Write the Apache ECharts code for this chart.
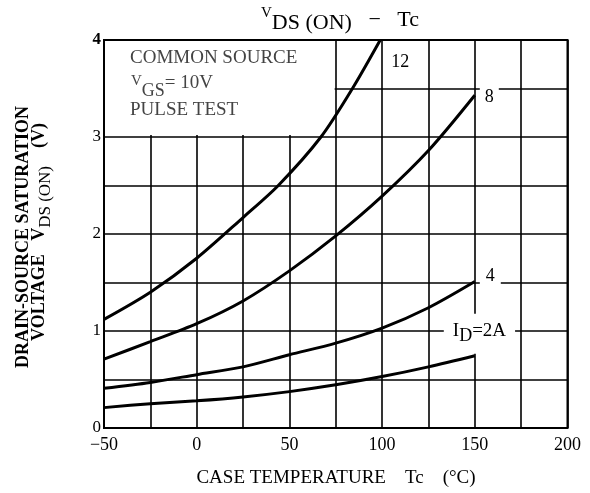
<!DOCTYPE html>
<html><head><meta charset="utf-8">
<script src="https://cdn.jsdelivr.net/npm/echarts@6/dist/echarts.min.js"></script>
<style>html,body{margin:0;padding:0;background:#fff}#c{width:590px;height:493px}</style>
</head><body><div id="c"></div>
<script>
// Data
const temps12 = [-50, -25, 0, 25, 44, 67, 84, 99];
const vds12   = [1.12, 1.40, 1.75, 2.17, 2.5, 3.0, 3.5, 4.0];
const temps   = [-50, -25, 0, 25, 50, 75, 100, 125, 150];
const vds8    = [0.71, 0.89, 1.075, 1.31, 1.62, 1.98, 2.39, 2.86, 3.43];
const vds4    = [0.41, 0.47, 0.55, 0.63, 0.755, 0.875, 1.03, 1.24, 1.51];
const vds2    = [0.21, 0.25, 0.28, 0.32, 0.375, 0.445, 0.53, 0.63, 0.745];
const xTicks  = [-50, 0, 50, 100, 150, 200];
const yTicks  = [0, 1, 2, 3, 4];

const FONT = '"Liberation Serif", "Times New Roman", serif';
const zip = (xs, ys) => xs.map((x, i) => [x, ys[i]]);

function curve(name, xs, ys, label, offset, rich, pad) {
  return {
    name, type: 'line', data: zip(xs, ys), smooth: 0.3, symbol: 'none', z: 3,
    lineStyle: { color: '#000', width: 3 },
    endLabel: {
      show: true, formatter: label, offset: offset, color: '#000',
      fontFamily: FONT, fontSize: 18, backgroundColor: '#fff', padding: pad,
      rich: rich || {}
    }
  };
}

const chart = echarts.init(document.getElementById('c'), null, { renderer: 'canvas' });
chart.setOption({
  animation: false,
  backgroundColor: '#fff',
  grid: { left: 104, right: 22.5, top: 40, bottom: 65, show: true, z: 10,
          borderColor: '#000', borderWidth: 2, backgroundColor: 'transparent' },
  title: {
    text: '{v|V}{s|DS (ON)}{n|   −   Tc}', left: 335, top: 1, textAlign: 'center',
    textStyle: { fontWeight: 'normal', rich: {
      v: { fontFamily: FONT, fontSize: 15, fontWeight: 'normal', color: '#000', verticalAlign: 'top', lineHeight: 28 },
      s: { fontFamily: FONT, fontSize: 22, fontWeight: 'normal', color: '#000', verticalAlign: 'bottom', lineHeight: 28 },
      n: { fontFamily: FONT, fontSize: 22, fontWeight: 'normal', color: '#000', verticalAlign: 'middle', lineHeight: 28 }
    } }
  },
  xAxis: {
    type: 'value', min: -50, max: 200, interval: 25,
    axisLine: { show: false }, axisTick: { show: false },
    splitLine: { show: true, lineStyle: { color: '#000', width: 1.6 } },
    axisLabel: {
      color: '#000', fontFamily: FONT, fontSize: 18, margin: 8,
      formatter: v => xTicks.includes(v) ? (v < 0 ? '−' + (-v) : String(v)) : ''
    }
  },
  yAxis: {
    type: 'value', min: 0, max: 4, interval: 0.5,
    axisLine: { show: false }, axisTick: { show: false },
    splitLine: { show: true, lineStyle: { color: '#000', width: 1.6 } },
    axisLabel: {
      color: '#000', fontFamily: FONT, fontSize: 17, margin: 3,
      formatter: v => yTicks.includes(v) ? (v === 4 ? '{b|4}' : String(v)) : '',
      rich: { b: { fontFamily: FONT, fontSize: 17, fontWeight: 'bold', color: '#000' } }
    }
  },
  series: [
    { type: 'line', data: [], z: 1, silent: true,
      markArea: { silent: true, itemStyle: { color: '#fff' },
        data: [[{ coord: [-50, 3.02] }, { coord: [74.4, 4] }]] } },
    curve('12', temps12, vds12, '12', [0, 22], null, [2, 3]),
    curve('8', temps, vds8, '8', [-3, 2], null, [3, 5]),
    curve('4', temps, vds4, '4', [-3, -5], null, [3, 6]),
    curve('2', temps, vds2, '{i|I}{d|D}{e|=2A}', [-39, -22], {
      i: { fontFamily: FONT, fontSize: 19, color: '#000', verticalAlign: 'top', lineHeight: 24 },
      d: { fontFamily: FONT, fontSize: 18, color: '#000', verticalAlign: 'bottom', lineHeight: 24 },
      e: { fontFamily: FONT, fontSize: 19, color: '#000', verticalAlign: 'top', lineHeight: 24 }
    }, [8, 9])
  ],
  graphic: [
    { type: 'text', left: 130, top: 49, z: 20,
      style: { text: 'COMMON SOURCE', fontFamily: FONT, fontSize: 19, fill: '#444' } },
    { type: 'text', left: 131, top: 74, z: 20,
      style: { text: '{v|V}{s|GS}{e|= 10V}', fontFamily: FONT, fontSize: 19, fill: '#444',
        rich: {
          v: { fontFamily: FONT, fontSize: 15, fill: '#444', verticalAlign: 'top', lineHeight: 26 },
          s: { fontFamily: FONT, fontSize: 18, fill: '#444', verticalAlign: 'bottom', lineHeight: 26 },
          e: { fontFamily: FONT, fontSize: 19, fill: '#444', verticalAlign: 'top', lineHeight: 26 }
        } } },
    { type: 'text', left: 130, top: 101, z: 20,
      style: { text: 'PULSE TEST', fontFamily: FONT, fontSize: 19, fill: '#444' } },
    { type: 'text', x: 23, y: 237, rotation: Math.PI / 2, z: 20,
      style: { text: 'DRAIN-SOURCE SATURATION', fontFamily: FONT, fontSize: 18, fontWeight: 'bold',
        fill: '#000', align: 'center', verticalAlign: 'middle' } },
    { type: 'text', x: 42, y: 232, rotation: Math.PI / 2, z: 20,
      style: { text: '{a|VOLTAGE   V}{s|DS (ON)}{a|    (V)}', fontFamily: FONT, fontSize: 18,
        fill: '#000', align: 'center', verticalAlign: 'middle',
        rich: {
          a: { fontFamily: FONT, fontSize: 18, fontWeight: 'bold', fill: '#000', lineHeight: 24, verticalAlign: 'top' },
          s: { fontFamily: FONT, fontSize: 17, fill: '#000', lineHeight: 24, verticalAlign: 'bottom' }
        } } },
    { type: 'text', x: 336, y: 478, z: 20,
      style: { text: 'CASE TEMPERATURE    Tc    (°C)', fontFamily: FONT, fontSize: 19,
        fill: '#000', align: 'center', verticalAlign: 'middle' } }
  ]
});
</script>
</body></html>
